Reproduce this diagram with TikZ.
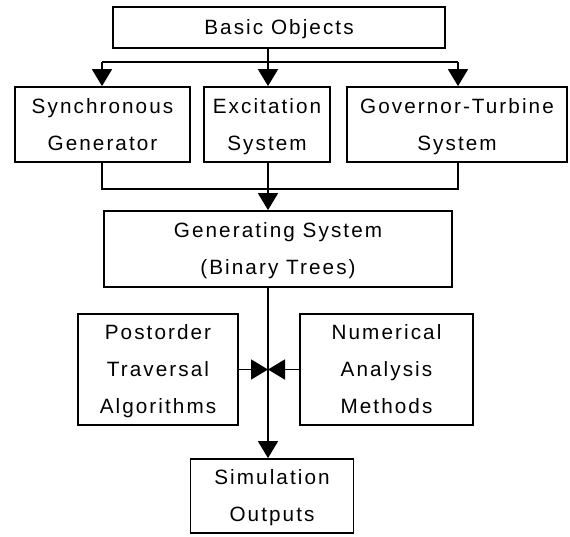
\documentclass[tikz,border=0pt]{standalone}
\usepackage{fontspec}
\setmainfont[LetterSpace=10]{Liberation Sans}
\usetikzlibrary{arrows.meta}
\newcommand\mlines[1]{\begin{tabular}{@{}c@{}}#1\end{tabular}}
\begin{document}
\begin{tikzpicture}[x=1pt,y=-1pt,
  box/.style={draw,line width=1.8pt,inner sep=0pt,
    font=\fontsize{20.7}{37}\selectfont},
  link/.style={line width=1.8pt},
  arr/.style={line width=1.8pt,-{Triangle[width=20pt,length=17pt]}}]
\useasboundingbox (0,0) rectangle (570,536);
\node[box,minimum width=332pt,minimum height=41pt] (basic) at (279,27.5) {\mlines{Basic Objects}};
\node[box,minimum width=175pt,minimum height=75pt] (sync) at (102.5,124.5) {\mlines{Synchronous\\Generator}};
\node[box,minimum width=126pt,minimum height=75pt] (exc) at (267,124.5) {\mlines{Excitation\\System}};
\node[box,minimum width=220pt,minimum height=75pt] (gov) at (457,124.5) {\mlines{Governor-Turbine\\System}};
\node[box,minimum width=348pt,minimum height=76pt] (gen) at (278,249) {\mlines{Generating System\\(Binary Trees)}};
\node[box,minimum width=160pt,minimum height=110pt] (post) at (158,369.5) {\mlines{Postorder\\Traversal\\Algorithms}};
\node[box,minimum width=173pt,minimum height=110pt] (num) at (386.5,369.5) {\mlines{Numerical\\Analysis\\Methods}};
\node[box,minimum width=163pt,minimum height=74pt] (sim) at (272,496) {\mlines{Simulation\\Outputs}};
\coordinate (ja) at (268,62);
\coordinate (jal) at (102,62);
\coordinate (jar) at (458,62);
\coordinate (jb) at (268,189);
\coordinate (jbl) at (102,189);
\coordinate (jbr) at (458,189);
\coordinate (jc) at (268,369.5);
\draw[link] (ja |- basic.south) -- (ja);
\draw[link] (jal) -- (jar);
\draw[arr] (jal) -- (jal |- sync.north);
\draw[arr] (ja) -- (ja |- exc.north);
\draw[arr] (jar) -- (jar |- gov.north);
\draw[link] (jbl |- sync.south) -- (jbl) -- (jbr) -- (jbr |- gov.south);
\draw[link] (jb |- exc.south) -- (jb);
\draw[arr] (jb) -- (jb |- gen.north);
\draw[arr] (jc |- gen.south) -- (jc |- sim.north);
\draw[arr] (post.east) -- (jc);
\draw[arr] (num.west) -- (jc);
\end{tikzpicture}
\end{document}
